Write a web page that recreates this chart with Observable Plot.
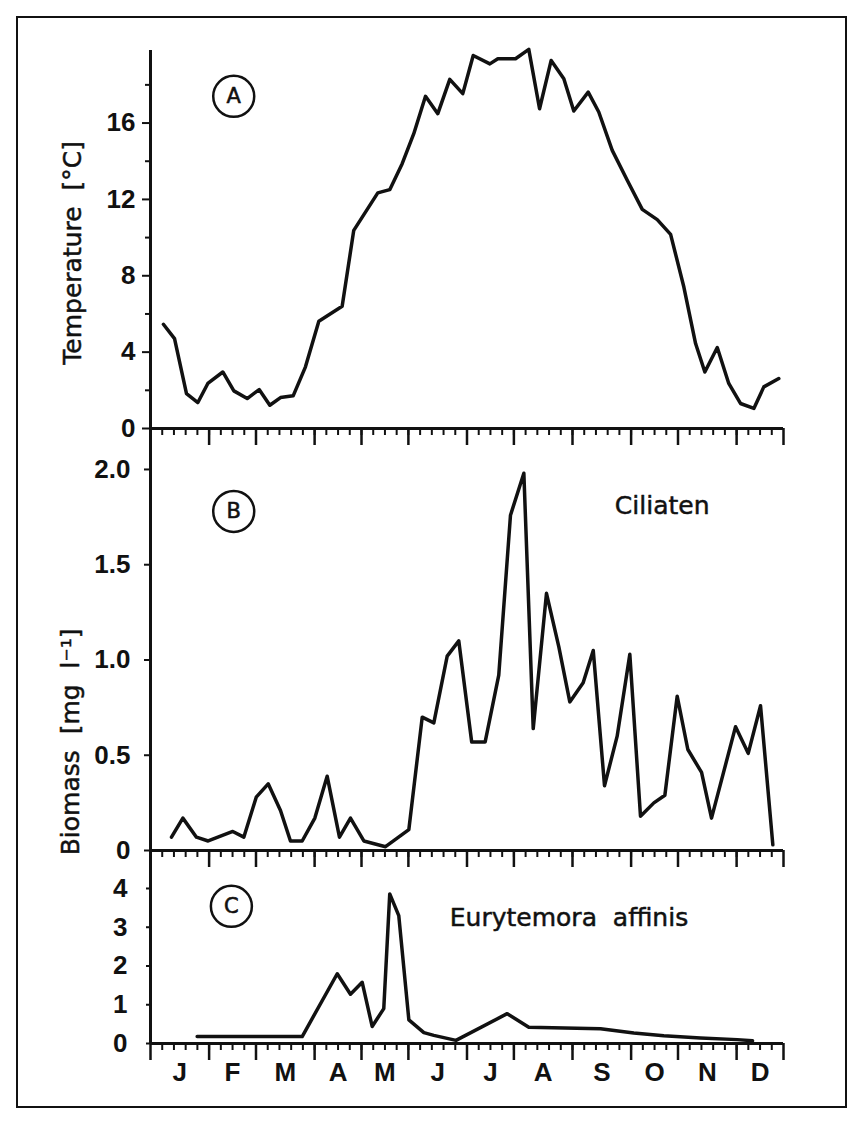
<!DOCTYPE html>
<html><head><meta charset="utf-8">
<script src="https://cdn.jsdelivr.net/npm/d3@7"></script>
<script src="https://cdn.jsdelivr.net/npm/@observablehq/plot@0.6"></script>
<style>
html,body{margin:0;padding:0;background:#fff;}
#wrap{position:relative;width:862px;height:1124px;background:#fff;overflow:hidden;}
#frame{position:absolute;left:16px;top:16px;width:827px;height:1088px;border:2px solid #111;}
#wrap svg{position:absolute;left:0;top:0;}
</style></head><body><div id="wrap"><div id="frame"></div></div>
<script>
// ---- data (x in weeks from start of January) ----
const monthLabels = ["J","F","M","A","M","J","J","A","S","O","N","D"];
const monthStarts = [0,5,9,14,18,22,27,31,36,41,45,50,54];
const weekTicks = d3.range(1, 54);

const tempWeek = [1.1,2.05,3.07,4.04,4.89,6.17,7.11,8.25,9.27,10.18,11.09,12.17,13.22,14.36,16.35,17.34,19.39,20.41,21.47,22.46,23.46,24.51,25.53,26.64,27.53,28.95,29.63,31.14,32.27,33.19,34.18,35.26,36.11,37.34,38.24,39.39,40.67,41.95,43.23,44.37,45.5,46.5,47.29,48.35,49.33,50.33,51.47,52.32,53.6];
const tempVal  = [5.46,4.71,1.83,1.36,2.36,2.96,1.97,1.57,2.04,1.22,1.62,1.71,3.23,5.62,6.40,10.38,12.34,12.51,13.87,15.44,17.4,16.49,18.29,17.54,19.54,19.1,19.37,19.37,19.86,16.75,19.28,18.32,16.63,17.62,16.58,14.57,13.0,11.48,10.94,10.17,7.41,4.45,2.96,4.24,2.36,1.31,1.05,2.18,2.62];

const ciliWeek = [1.79,2.76,3.92,4.92,7.02,7.96,9.02,10.04,11.09,11.94,12.94,14.02,15.07,16.12,17.06,18.2,20.05,22.04,23.18,24.17,25.31,26.3,27.4,28.55,29.71,30.71,31.85,32.65,33.78,34.83,35.77,36.91,37.77,38.73,39.81,40.89,41.8,42.94,43.88,44.93,45.84,47.01,47.86,49.91,50.99,52.04,53.09];
const ciliVal  = [0.07,0.17,0.07,0.05,0.10,0.07,0.28,0.35,0.21,0.05,0.05,0.17,0.39,0.07,0.17,0.05,0.02,0.11,0.70,0.67,1.02,1.10,0.57,0.57,0.92,1.76,1.98,0.64,1.35,1.07,0.78,0.88,1.05,0.34,0.60,1.03,0.18,0.25,0.29,0.81,0.53,0.41,0.17,0.65,0.51,0.76,0.03];

const eurWeek = [3.98,12.94,15.93,17.06,18.06,18.91,19.9,20.41,21.18,22.04,23.32,24.17,26.06,30.43,32.27,38.39,41.23,43.79,46.92,50.05,51.36];
const eurVal  = [0.18,0.18,1.80,1.27,1.58,0.44,0.90,3.86,3.30,0.61,0.28,0.21,0.08,0.77,0.42,0.38,0.27,0.20,0.14,0.10,0.07];

const tempTicks = [0,4,8,12,16];
const tempMinor = [2,6,10,14,18];
const biomTicks = [0,0.5,1.0,1.5,2.0];
const eurTicks = [0,1,2,3,4];

// ---- layout ----
const W = 862, H = 1124, LEFT = 150, RIGHT = 79;
const NUM_FONT = '"Liberation Sans",Arial,sans-serif';
const WORD_FONT = '"DejaVu Sans",sans-serif';
const INK = "#111";

const toSeries = (xs, ys) => xs.map((x, i) => ({x, y: ys[i]}));
const monthMids = monthLabels.map((_, i) => (monthStarts[i] + monthStarts[i + 1]) / 2);
const midLabel = new Map(monthMids.map((m, i) => [m, monthLabels[i]]));

function badge(letter, x, y) {
  return [
    Plot.dot([letter], {x: () => x, y: () => y, r: 20.5, stroke: INK, strokeWidth: 2.5, fill: "none"}),
    Plot.text([letter], {x: () => x, y: () => y, text: d => d, fontFamily: WORD_FONT, fontSize: 21, fill: INK, stroke: INK, strokeWidth: 0.6})
  ];
}

function panel({top, bottom, yMax, ticks, minor, tickFmt, tickSize, labelGap, series, extra}) {
  return Plot.plot({
    width: W, height: H,
    marginLeft: LEFT, marginRight: RIGHT, marginTop: top, marginBottom: H - bottom,
    x: {domain: [0, 54]},
    y: {domain: [0, yMax]},
    style: {background: "transparent", overflow: "visible", fontFamily: NUM_FONT, color: INK},
    marks: [
      Plot.axisX(weekTicks, {anchor: "bottom", tickSize: 7, strokeWidth: 2, tickFormat: () => "", label: null}),
      Plot.axisX(monthStarts, {anchor: "bottom", tickSize: 17, strokeWidth: 2.5, tickFormat: () => "", label: null}),
      Plot.axisY(ticks, {anchor: "left", tickSize: tickSize, tickPadding: labelGap - tickSize, strokeWidth: 2, tickFormat: tickFmt, fontSize: 26, fontWeight: "bold", label: null}),
      ...(minor ? [Plot.axisY(minor, {anchor: "left", tickSize: 5, strokeWidth: 2, tickFormat: () => "", label: null})] : []),
      Plot.ruleX([0], {strokeWidth: 3, stroke: INK}),
      Plot.ruleY([0], {strokeWidth: 3, stroke: INK}),
      Plot.line(series, {x: "x", y: "y", strokeWidth: 3.5, stroke: INK, strokeLinejoin: "round", strokeLinecap: "round"}),
      ...extra
    ]
  });
}

const wordText = (label, x, y, opts = {}) =>
  Plot.text([label], {x: () => x, y: () => y, text: d => d, fontFamily: WORD_FONT, fontSize: 25, fill: INK, stroke: INK, strokeWidth: 0.5, ...opts});

const wrap = document.getElementById("wrap");

wrap.appendChild(panel({
  top: 50, bottom: 428, yMax: 19.8, ticks: tempTicks, minor: tempMinor, tickSize: 8, labelGap: 15,
  tickFmt: d => String(d), series: toSeries(tempWeek, tempVal),
  extra: [
    ...badge("A", 7.1, 17.4),
    wordText("Temperature  [°C]", 0, 9.2, {dx: -78, rotate: -90})
  ]
}));

wrap.appendChild(panel({
  top: 428, bottom: 850, yMax: 2.215, ticks: biomTicks, minor: null, tickSize: 6, labelGap: 20,
  tickFmt: d => d === 0 ? "0" : d.toFixed(1), series: toSeries(ciliWeek, ciliVal),
  extra: [
    ...badge("B", 7.1, 1.78),
    wordText("Ciliaten", 43.65, 1.81, {letterSpacing: 1}),
    wordText("Biomass  [mg  l⁻¹]", 0, 0.57, {dx: -80, rotate: -90})
  ]
}));

wrap.appendChild(panel({
  top: 850, bottom: 1043, yMax: 4.98, ticks: eurTicks, minor: null, tickSize: 4, labelGap: 23,
  tickFmt: d => String(d), series: toSeries(eurWeek, eurVal),
  extra: [
    ...badge("C", 6.9, 3.54),
    wordText("Eurytemora  affinis", 35.7, 3.23),
    Plot.axisX(monthMids, {anchor: "bottom", tickSize: 0, tickPadding: 19, tickFormat: d => midLabel.get(d), fontSize: 26, fontWeight: "bold", label: null})
  ]
}));
</script></body></html>
